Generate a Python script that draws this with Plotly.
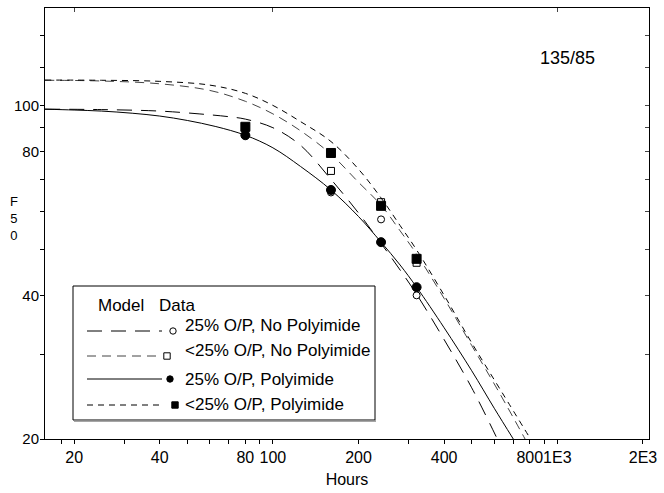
import math
import plotly.graph_objects as go

# ---------------- data ----------------
hours_data = [80, 160, 240, 320]
f50_25_nopi = [86.5, 65.7, 57.7, 40.0]
f50_lt25_nopi = [89.5, 72.9, 62.7, 46.8]
f50_25_pi = [86.6, 66.5, 51.7, 41.6]
f50_lt25_pi = [90.2, 79.5, 61.6, 47.7]

model_25_nopi_h = [15.8, 25, 40, 55, 70, 80, 100, 125, 160, 200, 240, 280, 320, 400, 500, 615]
model_25_nopi_f = [98.2, 98.0, 97.3, 96.0, 94.7, 93.6, 89.8, 82.5, 70.0, 59.5, 51.4, 45.2, 40.2, 32.3, 25.6, 20]
model_lt25_nopi_h = [15.8, 25, 40, 60, 80, 100, 125, 160, 200, 240, 280, 320, 400, 500, 630, 770]
model_lt25_nopi_f = [112.9, 112.5, 111.0, 107.5, 102.0, 96.0, 88.5, 79.0, 69.0, 61.8, 54.6, 48.8, 39.4, 31.4, 24.8, 20]
model_25_pi_h = [15.8, 20, 25, 32, 40, 50, 63, 80, 100, 125, 160, 200, 240, 280, 320, 400, 500, 600, 700]
model_25_pi_f = [98.2, 97.8, 97.3, 96.3, 95.0, 93.0, 90.3, 86.6, 81.5, 74.5, 66.5, 58.5, 51.7, 46.3, 41.6, 34.2, 27.8, 23.2, 20]
model_lt25_pi_h = [15.8, 25, 40, 60, 80, 100, 125, 160, 200, 240, 280, 320, 400, 500, 640, 805]
model_lt25_pi_f = [113.0, 112.9, 112.3, 110.3, 106.0, 100.0, 92.5, 84.0, 73.5, 64.0, 56.0, 49.8, 40.0, 31.8, 25.0, 20]

x_tickvals = [18, 20, 30, 40, 50, 60, 70, 80, 90, 100, 200, 300, 400, 500, 600, 700, 800, 900, 1000, 2000]
x_ticklabels = {20: "20", 40: "40", 80: "80", 100: "100", 200: "200", 400: "400", 800: "800", 1000: "1E3", 2000: "2E3"}
y_tickvals = [20, 30, 40, 50, 60, 70, 80, 90, 100, 120, 140]
y_ticklabels = {20: "20", 40: "40", 80: "80", 100: "100"}

legend_labels = ["25% O/P, No Polyimide", "<25% O/P, No Polyimide", "25% O/P, Polyimide", "<25% O/P, Polyimide"]

# ---------------- geometry ----------------
W, H = 664, 493
L, R, T, B = 45, 15, 8, 54
PW, PH = W - L - R, H - T - B
X_RANGE = [math.log10(15.8), math.log10(2100)]
Y_RANGE = [math.log10(20), math.log10(160)]


def px(x):
    return (x - L) / PW


def py(y):
    return (H - B - y) / PH


FONT = "Arial, Liberation Sans, sans-serif"
styles = [
    dict(dash="15px,9px", color="black", symbol="circle-open", size=7),
    dict(dash="9px,6px", color="#444444", symbol="square-open", size=7),
    dict(dash="solid", color="black", symbol="circle", size=9),
    dict(dash="6px,5px", color="black", symbol="square", size=9),
]

fig = go.Figure()
models = [(model_25_nopi_h, model_25_nopi_f), (model_lt25_nopi_h, model_lt25_nopi_f),
          (model_25_pi_h, model_25_pi_f), (model_lt25_pi_h, model_lt25_pi_f)]
datas = [f50_25_nopi, f50_lt25_nopi, f50_25_pi, f50_lt25_pi]

for (mh, mf), st in zip(models, styles):
    fig.add_trace(go.Scatter(x=mh, y=mf, mode="lines",
                             line=dict(color=st["color"], width=1, dash=st["dash"], shape="spline", smoothing=1.0),
                             showlegend=False, hoverinfo="skip"))
for d, st in zip(datas, styles):
    fig.add_trace(go.Scatter(x=hours_data, y=d, mode="markers",
                             marker=dict(symbol=st["symbol"], size=st["size"], color="black",
                                         line=dict(color="black", width=1)),
                             showlegend=False))

# invisible trace so the mirrored top/right axes are drawn
fig.add_trace(go.Scatter(x=hours_data, y=f50_25_pi, xaxis="x2", yaxis="y2", mode="markers",
                         marker=dict(opacity=0), showlegend=False, hoverinfo="skip"))

fig.update_layout(
    width=W, height=H, margin=dict(l=L, r=R, t=T, b=B),
    paper_bgcolor="white", plot_bgcolor="white",
    font=dict(family=FONT, size=15, color="black"),
    xaxis=dict(type="log", range=X_RANGE, showgrid=False, zeroline=False, showline=True, linecolor="black", linewidth=1,
               ticks="outside", ticklen=4, tickcolor="black", tickangle=0, tickfont=dict(size=16),
               tickvals=x_tickvals, ticktext=[x_ticklabels.get(v, "") for v in x_tickvals],
               title=dict(text="Hours", font=dict(size=16), standoff=8)),
    yaxis=dict(type="log", range=Y_RANGE, showgrid=False, zeroline=False, showline=True, linecolor="black", linewidth=1,
               ticks="outside", ticklen=4, tickcolor="black", tickfont=dict(size=15), ticklabelstandoff=-2,
               tickvals=y_tickvals, ticktext=[y_ticklabels.get(v, "") for v in y_tickvals]),
    xaxis2=dict(type="log", range=X_RANGE, overlaying="x", side="top", showgrid=False, zeroline=False, showline=True,
                linecolor="black", linewidth=1, ticks="inside", ticklen=4, tickvals=[20, 100, 1000], showticklabels=False),
    yaxis2=dict(type="log", range=Y_RANGE, overlaying="y", side="right", showgrid=False, zeroline=False, showline=True,
                linecolor="black", linewidth=1, ticks="inside", ticklen=4, tickvals=y_tickvals, showticklabels=False),
)

# y-axis title: letters stacked vertically
fig.add_annotation(xref="paper", yref="paper", x=px(14), y=py(219), text="F<br>5<br>0", showarrow=False,
                   font=dict(size=13), xanchor="center", yanchor="middle", align="center")

fig.add_annotation(xref="paper", yref="paper", x=px(567), y=py(58), text="135/85", showarrow=False,
                   font=dict(size=18), xanchor="center", yanchor="middle")

# ---------------- custom legend ----------------
shapes = []
shapes.append(dict(type="rect", xref="paper", yref="paper", x0=px(73), x1=px(375), y0=py(420), y1=py(286),
                   line=dict(color="black", width=1), fillcolor="white", layer="above"))
shapes.append(dict(type="line", xref="paper", yref="paper", x0=px(74), x1=px(376), y0=py(421), y1=py(421),
                   line=dict(color="#888888", width=1.5), layer="above"))
fig.add_annotation(xref="paper", yref="paper", x=px(96), y=py(305), text="Model", showarrow=False,
                   xanchor="left", yanchor="middle", font=dict(size=17))
fig.add_annotation(xref="paper", yref="paper", x=px(157), y=py(305), text="Data", showarrow=False,
                   xanchor="left", yanchor="middle", font=dict(size=17))
row_line_y = [331, 356, 379, 405]
row_text_y = [325, 350, 379, 404]
row_mark_x = [173, 167, 170, 175]
for i, st in enumerate(styles):
    yl = row_line_y[i]
    shapes.append(dict(type="line", xref="paper", yref="paper", x0=px(87), x1=px(162), y0=py(yl), y1=py(yl),
                       line=dict(color=st["color"], width=1, dash=st["dash"]), layer="above"))
    r = 3.2
    mx = row_mark_x[i]
    fill = "black" if st["symbol"] in ("circle", "square") else "white"
    kind = "circle" if "circle" in st["symbol"] else "rect"
    shapes.append(dict(type=kind, xref="paper", yref="paper", x0=px(mx - r), x1=px(mx + r), y0=py(yl + r), y1=py(yl - r),
                       line=dict(color="black", width=1), fillcolor=fill, layer="above"))
    fig.add_annotation(xref="paper", yref="paper", x=px(183), y=py(row_text_y[i]),
                       text=legend_labels[i].replace("<", "&lt;"),
                       showarrow=False, xanchor="left", yanchor="middle", font=dict(size=17))
fig.update_layout(shapes=shapes)

fig.write_html("out.html", config={"displayModeBar": False}, post_script="document.body.style.margin='0';")
